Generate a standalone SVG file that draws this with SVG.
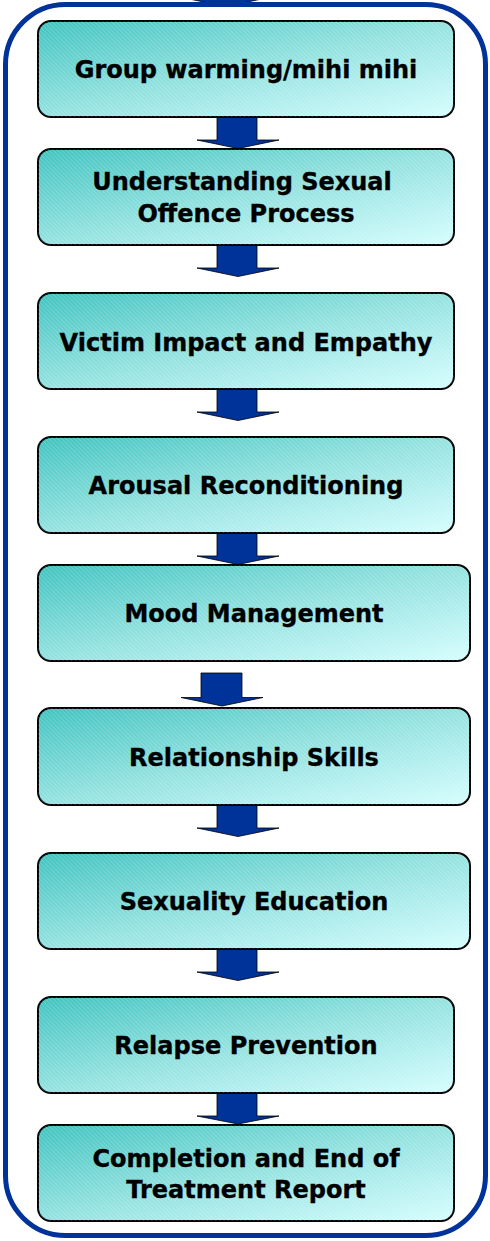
<svg xmlns="http://www.w3.org/2000/svg" width="490" height="1241" viewBox="0 0 490 1241">
<style>
.box{stroke:#000;stroke-width:2}
.fill{fill:url(#grad)}
.hatch{fill:url(#hatch)}
.lbl{font-family:"DejaVu Sans","Verdana",sans-serif;font-weight:bold;font-size:24px;fill:#000;stroke:#000;stroke-width:0.35;text-anchor:middle}
.arr{fill:#003399;stroke:#000;stroke-width:0.8;stroke-linejoin:miter}
</style>
<defs>
<linearGradient id="grad" x1="0" y1="0" x2="1" y2="1">
<stop offset="0" stop-color="#3fc3bf"/>
<stop offset="0.5" stop-color="#93e2e0"/>
<stop offset="1" stop-color="#d6fefe"/>
</linearGradient>
<pattern id="hatch" width="3" height="3" patternUnits="userSpaceOnUse" patternTransform="rotate(-45)">
<rect x="0" y="0" width="1" height="3" fill="#ffffff" fill-opacity="0.18"/>
</pattern>
</defs>
<g id="connectors">
<polygon class="arr" points="184.5,-2 266.5,-2 225.5,6.5"/>
<polygon class="arr" points="217,112 257,112 257,140 279,140 238,148.5 197,140 217,140"/>
<polygon class="arr" points="217,240 257,240 257,268 279,268 238,276.5 197,268 217,268"/>
<polygon class="arr" points="217,384 257,384 257,412 279,412 238,420.5 197,412 217,412"/>
<polygon class="arr" points="217,528 257,528 257,556 279,556 238,564.5 197,556 217,556"/>
<polygon class="arr" points="201,673 242,673 242,697.5 263,697.5 222,706 181,697.5 201,697.5"/>
<polygon class="arr" points="217,800 257,800 257,828 279,828 238,836.5 197,828 217,828"/>
<polygon class="arr" points="217,944 257,944 257,972 279,972 238,980.5 197,972 217,972"/>
<polygon class="arr" points="217,1088 257,1088 257,1116 279,1116 238,1124 197,1116 217,1116"/>
</g>
<g id="frame">
<rect x="5.5" y="4.5" width="480" height="1231" rx="60" ry="60" fill="none" stroke="#003399" stroke-width="5"/>
</g>
<g id="n1">
<rect class="box fill" x="38" y="21" width="416" height="96" rx="13"/>
<rect class="hatch" x="38" y="21" width="416" height="96" rx="13"/>
<text class="lbl" x="246" y="78">Group warming/mihi mihi</text>
</g>
<g id="n2">
<rect class="box fill" x="38" y="149" width="416" height="96" rx="13"/>
<rect class="hatch" x="38" y="149" width="416" height="96" rx="13"/>
<text class="lbl" x="242" y="190">Understanding Sexual</text>
<text class="lbl" x="246" y="222">Offence Process</text>
</g>
<g id="n3">
<rect class="box fill" x="38" y="293" width="416" height="96" rx="13"/>
<rect class="hatch" x="38" y="293" width="416" height="96" rx="13"/>
<text class="lbl" x="246" y="350.5">Victim Impact and Empathy</text>
</g>
<g id="n4">
<rect class="box fill" x="38" y="437" width="416" height="96" rx="13"/>
<rect class="hatch" x="38" y="437" width="416" height="96" rx="13"/>
<text class="lbl" x="246" y="494">Arousal Reconditioning</text>
</g>
<g id="n5">
<rect class="box fill" x="38" y="565" width="432" height="96" rx="13"/>
<rect class="hatch" x="38" y="565" width="432" height="96" rx="13"/>
<text class="lbl" x="254" y="622">Mood Management</text>
</g>
<g id="n6">
<rect class="box fill" x="38" y="708" width="432" height="97" rx="13"/>
<rect class="hatch" x="38" y="708" width="432" height="97" rx="13"/>
<text class="lbl" x="254" y="766">Relationship Skills</text>
</g>
<g id="n7">
<rect class="box fill" x="38" y="853" width="432" height="96" rx="13"/>
<rect class="hatch" x="38" y="853" width="432" height="96" rx="13"/>
<text class="lbl" x="254" y="910">Sexuality Education</text>
</g>
<g id="n8">
<rect class="box fill" x="38" y="997" width="416" height="96" rx="13"/>
<rect class="hatch" x="38" y="997" width="416" height="96" rx="13"/>
<text class="lbl" x="246" y="1054">Relapse Prevention</text>
</g>
<g id="n9">
<rect class="box fill" x="38" y="1125" width="416" height="96" rx="13"/>
<rect class="hatch" x="38" y="1125" width="416" height="96" rx="13"/>
<text class="lbl" x="246" y="1166.5">Completion and End of</text>
<text class="lbl" x="246" y="1198">Treatment Report</text>
</g>
</svg>
